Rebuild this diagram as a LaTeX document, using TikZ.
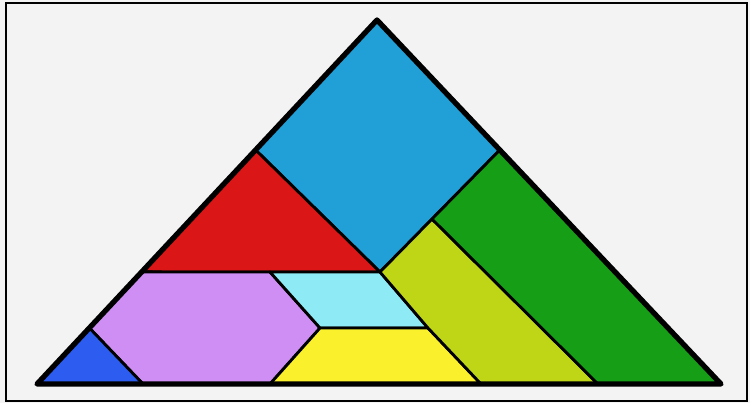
\documentclass[tikz,border=0pt]{standalone}
\usetikzlibrary{calc}
\definecolor{celeste}{RGB}{32,160,214}
\definecolor{rojo}{RGB}{218,22,22}
\definecolor{verde}{RGB}{22,158,22}
\definecolor{lima}{RGB}{190,214,22}
\definecolor{lila}{RGB}{206,142,244}
\definecolor{cian}{RGB}{142,234,244}
\definecolor{amarillo}{RGB}{250,240,44}
\definecolor{azul}{RGB}{44,92,240}
\definecolor{papel}{RGB}{243,243,243}

\begin{document}
\begin{tikzpicture}[x=0.02cm, y=-0.02cm,
        pieza/.style={draw=black, line width=1.6pt, line join=round},
        borde/.style={draw=black, line width=3pt, line join=round}]
      % fondo y marco (1 unidad = 1 pixel)
      \useasboundingbox (0,0) rectangle (750,403);
      \fill[papel] (0,0) rectangle (750,403);
      \draw[line width=1.3pt] (6,3) rectangle (747,401);
      % vertices del triangulo grande
      \coordinate (A) at (377,20);
      \coordinate (BL) at (37,384);
      \coordinate (BR) at (721,384);
      % puntos sobre los lados
      \coordinate (L) at ($(A)!0.357!(BL)$);
      \coordinate (R) at ($(A)!0.357!(BR)$);
      \coordinate (H) at ($(A)!0.692!(BL)$);
      \coordinate (K) at ($(A)!0.846!(BL)$);
      % puntos interiores
      \coordinate (C) at (380,272);
      \coordinate (P) at (270,272);
      \coordinate (Q) at (320,328);
      \coordinate (E) at (428,328);
      \coordinate (T) at ($(C)!0.434!(R)$);
      % puntos sobre la base
      \coordinate (D0) at (143,384);
      \coordinate (D1) at (270,384);
      \coordinate (D2) at (481,384);
      \coordinate (D3) at (598,384);
      % piezas
      \filldraw[pieza, fill=celeste] (A) -- (L) -- (C) -- (R) -- cycle;
      \filldraw[pieza, fill=rojo] (L) -- (H) -- (C) -- cycle;
      \filldraw[pieza, fill=lila] (H) -- (P) -- (Q) -- (D1) -- (D0) -- (K) -- cycle;
      \filldraw[pieza, fill=azul] (K) -- (D0) -- (BL) -- cycle;
      \filldraw[pieza, fill=cian] (P) -- (C) -- (E) -- (Q) -- cycle;
      \filldraw[pieza, fill=amarillo] (Q) -- (E) -- (D2) -- (D1) -- cycle;
      \filldraw[pieza, fill=lima] (T) -- (C) -- (E) -- (D2) -- (D3) -- cycle;
      \filldraw[pieza, fill=verde] (R) -- (T) -- (D3) -- (BR) -- cycle;
      % contorno
      \draw[borde] (A) -- (BL) -- (BR) -- cycle;
    \end{tikzpicture}
\end{document}
